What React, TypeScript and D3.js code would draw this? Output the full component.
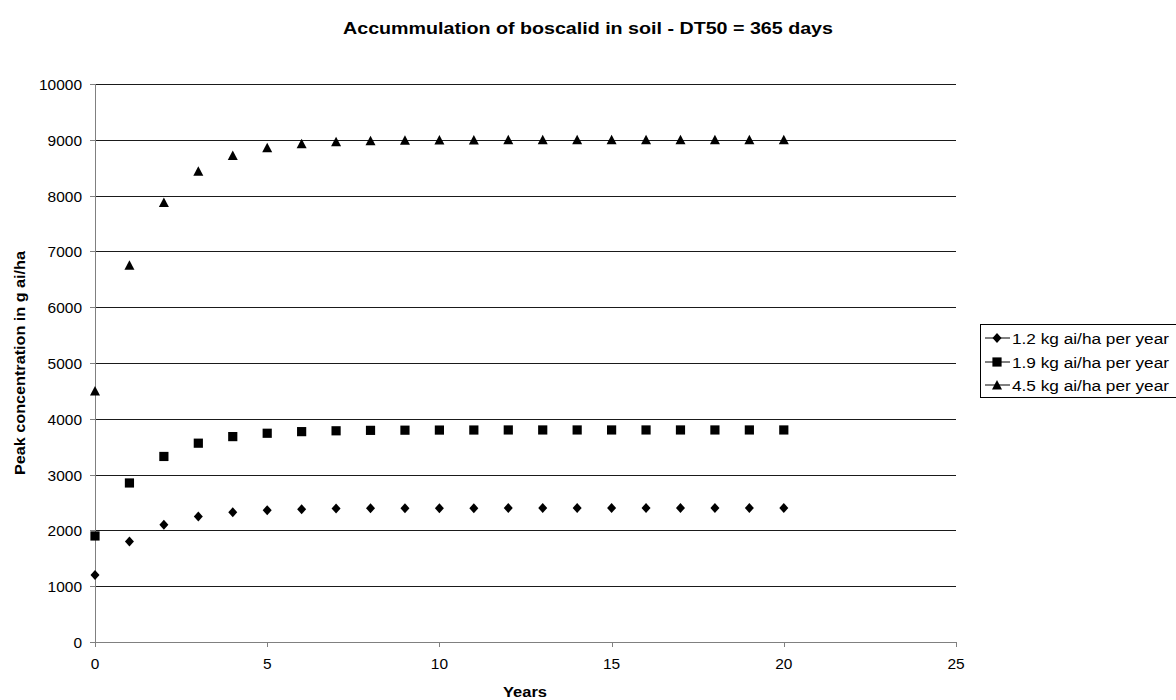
import React from "react";
import * as d3 from "d3";

const years = [0, 1, 2, 3, 4, 5, 6, 7, 8, 9, 10, 11, 12, 13, 14, 15, 16, 17, 18, 19, 20];
const series12 = [1200, 1800, 2100, 2250, 2325, 2363, 2381, 2391, 2395, 2398, 2399, 2399, 2400, 2400, 2400, 2400, 2400, 2400, 2400, 2400, 2400];
const series19 = [1900, 2850, 3325, 3563, 3681, 3741, 3770, 3785, 3793, 3796, 3798, 3799, 3800, 3800, 3800, 3800, 3800, 3800, 3800, 3800, 3800];
const series45 = [4500, 6750, 7875, 8438, 8719, 8859, 8930, 8965, 8982, 8991, 8996, 8998, 8999, 9000, 9000, 9000, 9000, 9000, 9000, 9000, 9000];
const seriesNames = ["1.2 kg ai/ha per year", "1.9 kg ai/ha per year", "4.5 kg ai/ha per year"];
const seriesShapes = ["diamond", "square", "triangle"];
const xTicks = [0, 5, 10, 15, 20, 25];
const yTicks = [0, 1000, 2000, 3000, 4000, 5000, 6000, 7000, 8000, 9000, 10000];

const FONT = "'Liberation Sans', Arial, Helvetica, sans-serif";

function markerPath(shape: string, cx: number, cy: number) {
  if (shape === "diamond") {
    const ry = 5, rx = 4.5;
    return `M${cx},${cy - ry}L${cx + rx},${cy}L${cx},${cy + ry}L${cx - rx},${cy}Z`;
  }
  if (shape === "square") {
    const r = 4.6;
    return `M${cx - r},${cy - r}H${cx + r}V${cy + r}H${cx - r}Z`;
  }
  const r = 5;
  return `M${cx},${cy - 5}L${cx + r},${cy + 4.5}L${cx - r},${cy + 4.5}Z`;
}

export default function App() {
  const W = 1176, H = 700;
  const x = d3.scaleLinear().domain([0, 25]).range([95, 956]);
  const y = d3.scaleLinear().domain([0, 10000]).range([642, 84]);
  const data = [series12, series19, series45];
  const legendY = [338, 362, 385];
  const digitW = 8.6;

  return (
    <svg width={W} height={H} style={{ position: "absolute", left: 0, top: 0, background: "#fff" }} fontFamily={FONT}>
      <rect x={0} y={0} width={W} height={H} fill="#fff" />
      <text x={343} y={34} fontSize={16.5} fontWeight="bold" textLength={490} lengthAdjust="spacingAndGlyphs">
        Accummulation of boscalid in soil - DT50 = 365 days
      </text>
      {yTicks.filter((t) => t > 0).map((t) => (
        <line key={"g" + t} x1={x(0)} x2={x(25)} y1={Math.round(y(t)) + 0.5} y2={Math.round(y(t)) + 0.5} stroke="#1a1a1a" strokeWidth={1} />
      ))}
      <line x1={x(0) + 0.5} x2={x(0) + 0.5} y1={y(10000)} y2={y(0)} stroke="#808080" strokeWidth={1} />
      <line x1={x(0)} x2={x(25)} y1={Math.round(y(0)) + 0.5} y2={Math.round(y(0)) + 0.5} stroke="#808080" strokeWidth={1} />
      {yTicks.map((t) => (
        <g key={"yt" + t}>
          <line x1={x(0) - 5} x2={x(0)} y1={Math.round(y(t)) + 0.5} y2={Math.round(y(t)) + 0.5} stroke="#808080" />
          <text x={82} y={y(t) + 6} textAnchor="end" fontSize={14} textLength={String(t).length * digitW} lengthAdjust="spacingAndGlyphs">{t}</text>
        </g>
      ))}
      {xTicks.map((t) => (
        <g key={"xt" + t}>
          <line x1={Math.round(x(t)) + 0.5} x2={Math.round(x(t)) + 0.5} y1={y(0)} y2={y(0) + 5} stroke="#808080" />
          <text x={x(t) - (String(t).length * digitW) / 2} y={y(0) + 27} fontSize={14} textLength={String(t).length * digitW} lengthAdjust="spacingAndGlyphs">{t}</text>
        </g>
      ))}
      <text x={503} y={697} fontSize={14.5} fontWeight="bold" textLength={44} lengthAdjust="spacingAndGlyphs">Years</text>
      <text transform={`translate(25, 475) rotate(-90)`} fontSize={15} fontWeight="bold" textLength={224} lengthAdjust="spacingAndGlyphs">
        Peak concentration in g ai/ha
      </text>
      {data.map((s, i) => (
        <g key={"s" + i}>
          {s.map((v, j) => (
            <path key={j} d={markerPath(seriesShapes[i], x(years[j]), y(v))} fill="#000" />
          ))}
        </g>
      ))}
      <rect x={980.5} y={324.5} width={200} height={73} fill="#fff" stroke="#000" strokeWidth={1} />
      {seriesNames.map((n, i) => (
        <g key={"l" + i}>
          <line x1={985} x2={1010} y1={legendY[i]} y2={legendY[i]} stroke="#000" strokeWidth={1} />
          <path d={markerPath(seriesShapes[i], 997, legendY[i])} fill="#000" />
          <text x={1012} y={legendY[i] + 5.5} fontSize={15.5} textLength={157} lengthAdjust="spacingAndGlyphs">{n}</text>
        </g>
      ))}
    </svg>
  );
}
